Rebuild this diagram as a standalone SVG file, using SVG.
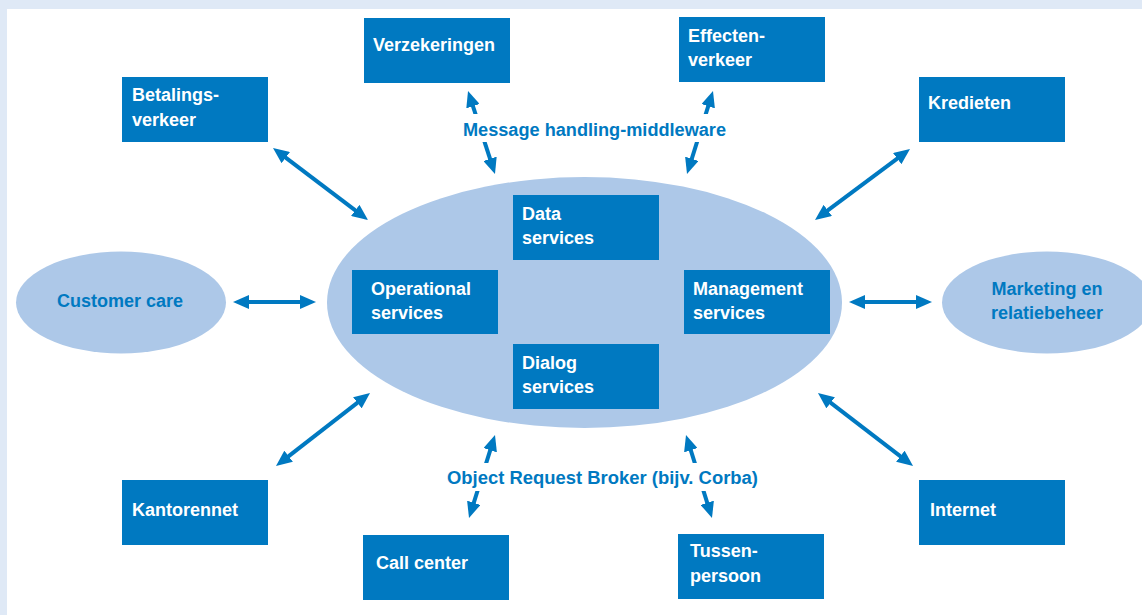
<svg xmlns="http://www.w3.org/2000/svg" width="1142" height="615" viewBox="0 0 1142 615">
  <style>
    .box { fill: #0079C1; }
    .oval { fill: #ADC8E8; }
    .t { font-family: "Liberation Sans", Arial, sans-serif; font-size: 18px; font-weight: bold; fill: #FFFFFF; }
    .lbl { font-family: "Liberation Sans", Arial, sans-serif; font-size: 18px; font-weight: bold; fill: #0079C1; }
    .mid { text-anchor: middle; }
    .con { stroke: #0079C1; stroke-width: 4; fill: none; marker-start: url(#head); marker-end: url(#head); }
  </style>
  <defs>
    <marker id="head" viewBox="0 0 16 14" refX="8" refY="7" markerWidth="16" markerHeight="14" markerUnits="userSpaceOnUse" orient="auto-start-reverse">
      <path d="M0,0 L16,7 L0,14 Z" fill="#0079C1"/>
    </marker>
  </defs>

  <!-- page frame -->
  <rect x="0" y="0" width="1142" height="615" fill="#DFE9F6"/>
  <rect x="7" y="9" width="1135" height="606" fill="#FFFFFF"/>

  <!-- central platform -->
  <g id="platform">
    <ellipse class="oval" cx="584.5" cy="302.5" rx="257.5" ry="125.5"/>
  </g>

  <!-- connectors -->
  <g id="connectors">
    <line class="con" x1="279.4" y1="152.8" x2="361.6" y2="215.2"/>
    <line class="con" x1="903.6" y1="153.8" x2="821.4" y2="215.2"/>
    <line class="con" x1="282.3" y1="461.1" x2="363.7" y2="397.9"/>
    <line class="con" x1="906.7" y1="461.1" x2="824.3" y2="397.9"/>
    <line class="con" x1="241" y1="302" x2="308" y2="302"/>
    <line class="con" x1="857" y1="302" x2="924" y2="302"/>
    <line class="con" x1="470.5" y1="98.6" x2="492.5" y2="166.4"/>
    <line class="con" x1="710.6" y1="98.6" x2="689.4" y2="166.4"/>
    <line class="con" x1="492.6" y1="442.6" x2="471.4" y2="510.4"/>
    <line class="con" x1="688.4" y1="442.6" x2="709.6" y2="510.4"/>
  </g>

  <!-- connector labels -->
  <g id="label-middleware">
    <rect x="457" y="114" width="276" height="28" fill="#FFFFFF"/>
    <text class="lbl" x="463" y="136" textLength="263" lengthAdjust="spacingAndGlyphs">Message handling-middleware</text>
  </g>
  <g id="label-orb">
    <rect x="441" y="463" width="324" height="28" fill="#FFFFFF"/>
    <text class="lbl" x="447" y="484" textLength="311" lengthAdjust="spacingAndGlyphs">Object Request Broker (bijv. Corba)</text>
  </g>

  <!-- services inside the platform -->
  <g id="data-services">
    <rect class="box" x="513" y="195" width="146" height="65"/>
    <text class="t" x="522" y="220">Data</text>
    <text class="t" x="522" y="244">services</text>
  </g>
  <g id="operational-services">
    <rect class="box" x="352" y="270" width="146" height="64"/>
    <text class="t" x="371" y="295">Operational</text>
    <text class="t" x="371" y="319">services</text>
  </g>
  <g id="management-services">
    <rect class="box" x="684" y="270" width="146" height="64"/>
    <text class="t" x="693" y="295">Management</text>
    <text class="t" x="693" y="319">services</text>
  </g>
  <g id="dialog-services">
    <rect class="box" x="513" y="344" width="146" height="65"/>
    <text class="t" x="522" y="369">Dialog</text>
    <text class="t" x="522" y="393">services</text>
  </g>

  <!-- outer channels and domains -->
  <g id="verzekeringen">
    <rect class="box" x="364" y="18" width="146" height="65"/>
    <text class="t" x="373" y="51">Verzekeringen</text>
  </g>
  <g id="effectenverkeer">
    <rect class="box" x="679" y="17" width="146" height="65"/>
    <text class="t" x="688" y="42">Effecten-</text>
    <text class="t" x="688" y="66">verkeer</text>
  </g>
  <g id="betalingsverkeer">
    <rect class="box" x="122" y="77" width="146" height="65"/>
    <text class="t" x="132" y="101">Betalings-</text>
    <text class="t" x="132" y="126">verkeer</text>
  </g>
  <g id="kredieten">
    <rect class="box" x="919" y="77" width="146" height="65"/>
    <text class="t" x="928" y="109">Kredieten</text>
  </g>
  <g id="customer-care">
    <ellipse class="oval" cx="121" cy="302.5" rx="105" ry="51"/>
    <text class="lbl mid" x="120" y="307">Customer care</text>
  </g>
  <g id="marketing">
    <ellipse class="oval" cx="1047" cy="302.5" rx="105" ry="51"/>
    <text class="lbl mid" x="1047" y="295">Marketing en</text>
    <text class="lbl mid" x="1047" y="319">relatiebeheer</text>
  </g>
  <g id="kantorennet">
    <rect class="box" x="122" y="480" width="146" height="65"/>
    <text class="t" x="132" y="516">Kantorennet</text>
  </g>
  <g id="internet">
    <rect class="box" x="919" y="480" width="146" height="65"/>
    <text class="t" x="930" y="516">Internet</text>
  </g>
  <g id="call-center">
    <rect class="box" x="363" y="535" width="146" height="65"/>
    <text class="t" x="376" y="569">Call center</text>
  </g>
  <g id="tussenpersoon">
    <rect class="box" x="678" y="534" width="146" height="65"/>
    <text class="t" x="690" y="557">Tussen-</text>
    <text class="t" x="690" y="582">persoon</text>
  </g>
</svg>
